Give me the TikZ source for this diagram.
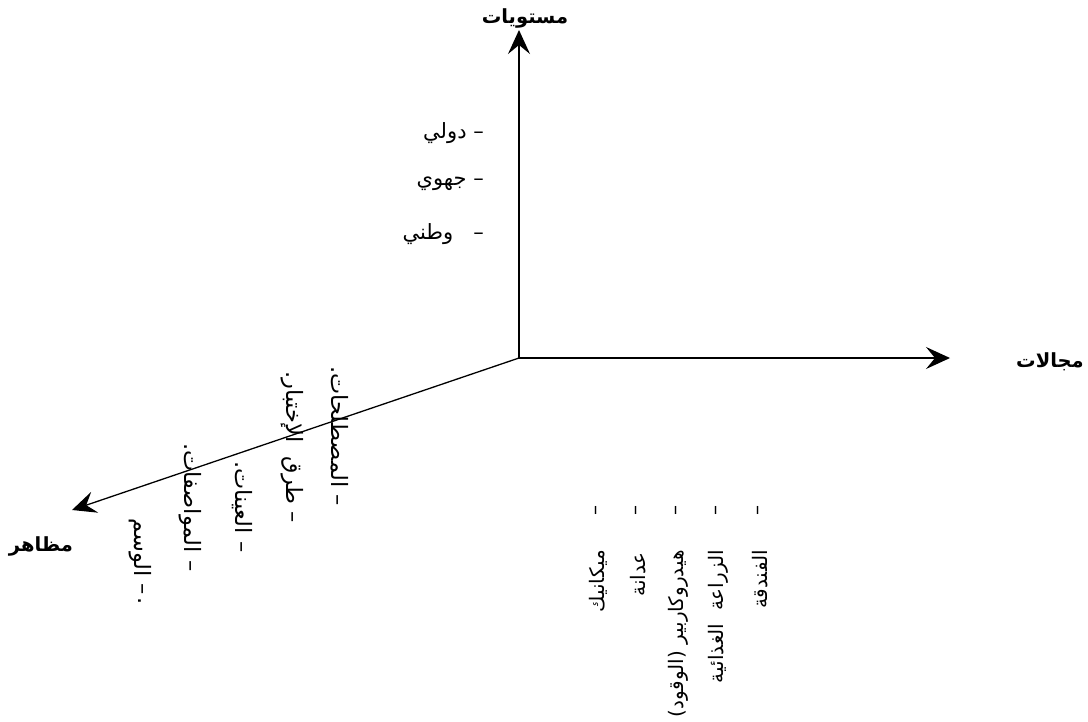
\documentclass[tikz,border=0pt]{standalone}
\usepackage{fontspec}
\newfontfamily\arabicfont[Script=Arabic]{DejaVu Sans}
\TeXXeTstate=1
\usetikzlibrary{arrows.meta}
\newcommand{\ar}[1]{\arabicfont\beginR #1\endR}
\begin{document}
\begin{tikzpicture}[x=1pt,y=-1pt,
  axis/.style={line width=1.3pt,-{Stealth[length=24pt,width=22pt,inset=9pt]}},
  axlabel/.style={font=\arabicfont\bfseries\fontsize{19.5}{22}\selectfont,inner sep=0pt},
  lvl/.style={font=\arabicfont\fontsize{21}{24}\selectfont,inner sep=0pt,anchor=east},
  vleft/.style={font=\arabicfont\fontsize{22.5}{26}\selectfont,inner sep=0pt,rotate=-90,anchor=west},
  vbot/.style={font=\arabicfont\fontsize{20}{23}\selectfont,inner sep=0pt,rotate=90,anchor=east},
  tick/.style={font=\arabicfont\fontsize{20}{22}\selectfont,inner sep=0pt,rotate=90}]
\useasboundingbox (0,0) rectangle (1088,721);
\coordinate (O) at (519,358);
\coordinate (Ytip) at (519,30);
\coordinate (Xtip) at (950,358);
\coordinate (Ztip) at (72,510);
\draw[axis] (O) -- (Ytip);
\draw[axis] (O) -- (Xtip);
\draw[axis] (O) -- (Ztip);
\node[axlabel] (ylab) at (525,18) {\ar{مستويات}};
\node[axlabel] (xlab) at (1050,362) {\ar{مجالات}};
\node[axlabel] (zlab) at (41,546) {\ar{مظاهر}};
% levels
\node[lvl] (l1) at (484,133) {\ar{– دولي}};
\node[lvl] (l2) at (484,184) {\ar{– جهوي}};
\node[lvl] (l3) at (484,234) {\ar{– \ \ وطني}};
% aspects
\node[vleft] (a1) at (340,366) {\ar{– المصطلحات.}};
\node[vleft] (a2) at (292,371) {\ar{– طرق \ الإختبار.}};
\node[vleft] (a3) at (242,461) {\ar{– العينات.}};
\node[vleft] (a4) at (190,443) {\ar{– المواصفات.}};
\node[vleft] (a5) at (140,518) {\ar{الوسم}};
\node[vleft] (a5d) at (140,583) {\ar{–}};
\node[vleft] (a5p) at (140,597) {\ar{.}};
% fields
\node[tick] (t1) at (598,510) {–};
\node[tick] (t2) at (638,510) {–};
\node[tick] (t3) at (678,510) {–};
\node[tick] (t4) at (718,510) {–};
\node[tick] (t5) at (760,510) {–};
\node[vbot] (f1) at (598,550) {\ar{ميكانيك}};
\node[vbot] (f2) at (638,552) {\ar{عدانة}};
\node[vbot] (f3) at (678,550) {\ar{هيدروكاربير (الوقود)}};
\node[vbot] (f4) at (718,550) {\ar{الزراعة \ الغذائية}};
\node[vbot] (f5) at (760,550) {\ar{الفندقة}};
\end{tikzpicture}
\end{document}
